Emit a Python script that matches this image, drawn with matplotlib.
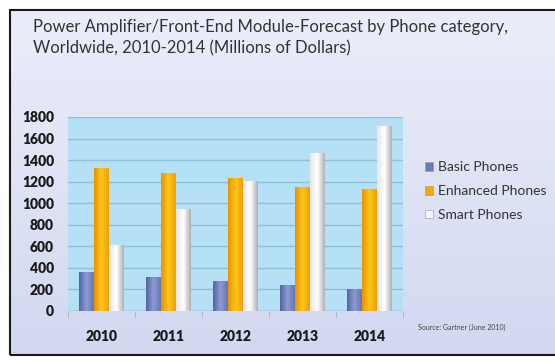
import numpy as np
import matplotlib.pyplot as plt
from matplotlib.colors import LinearSegmentedColormap
from matplotlib.patches import Rectangle, Patch

# data (millions of dollars)
years = ['2010', '2011', '2012', '2013', '2014']
basic = [355, 310, 275, 235, 200]
enhanced = [1320, 1280, 1230, 1150, 1130]
smart = [610, 940, 1200, 1460, 1710]
series_names = ['Basic Phones', 'Enhanced Phones', 'Smart Phones']
yticks = [0, 200, 400, 600, 800, 1000, 1200, 1400, 1600, 1800]

plt.rcParams['font.family'] = ['Lato', 'DejaVu Sans']

fig = plt.figure(figsize=(5.55, 3.63), dpi=100)

# background panel with soft vertical gradient and dark frame
bg = fig.add_axes([0, 0, 1, 1], zorder=-10)
bg.set_xlim(0, 1)
bg.set_ylim(0, 1)
bg.axis('off')
grad = np.linspace(0, 1, 256).reshape(-1, 1)
bg_cmap = LinearSegmentedColormap.from_list('bg', ['#d2d8f0', '#ebeefa'])
bg.imshow(grad, extent=[10/555, 1, 8/363, 1 - 10/363], origin='lower',
          aspect='auto', cmap=bg_cmap)
bg.add_patch(Rectangle((10/555, 8/363), 1 - 10/555 + 0.01, 1 - 18/363,
                       fill=False, ec='#1a1a1a', lw=1.5))

fig.text(33/555, 1 - 38/363,
         'Power Amplifier/Front-End Module-Forecast by Phone category,\n'
         'Worldwide, 2010-2014 (Millions of Dollars)',
         fontsize=12, color='#333333', va='center', ha='left',
         linespacing=1.4)

ax = fig.add_axes([68/555, 1 - 311/363, 335/555, 194/363])
ax.set_facecolor('#b6e0f6')
for s in ax.spines.values():
    s.set_visible(False)
ax.set_ylim(0, 1800)
ax.set_xlim(-0.5, len(years) - 0.5)
ax.set_yticks(yticks)
ax.yaxis.grid(True, color='#8cc2de', lw=1.0)
ax.set_axisbelow(True)
ax.axhline(0, color='#9aa8b8', lw=1.0, zorder=1)
ax.tick_params(axis='y', length=0, labelsize=10, pad=10)
ax.tick_params(axis='x', which='major', length=0, labelsize=10, pad=14)
ax.tick_params(axis='x', which='minor', length=4, color='#a8b4c4', width=0.6)

x = np.arange(len(years))
w = 0.22
cmaps = [
    LinearSegmentedColormap.from_list('b', ['#5464a4', '#8d9bd2', '#6676b6']),
    LinearSegmentedColormap.from_list('e', ['#e89200', '#ffc61a', '#f0a000']),
    LinearSegmentedColormap.from_list('s', ['#e6e6e6', '#ffffff', '#b0b0b0']),
]
swatch = ['#6a79b8', '#f5a900', '#f4f4f4']
hgrad = np.linspace(0, 1, 64).reshape(1, -1)

for i, vals in enumerate([basic, enhanced, smart]):
    bars = ax.bar(x + (i - 1) * w, vals, width=w, color='none', zorder=2)
    for b in bars:
        x0, y0 = b.get_x(), b.get_y()
        ax.imshow(hgrad, extent=[x0, x0 + b.get_width(), y0, y0 + b.get_height()],
                  aspect='auto', cmap=cmaps[i], zorder=2, interpolation='bilinear')
ax.set_xlim(-0.5, len(years) - 0.5)
ax.set_ylim(0, 1800)
ax.set_xticks(x)
ax.set_xticklabels(years)
ax.set_xticks(np.arange(len(years) + 1) - 0.5, minor=True)
for lab in ax.get_yticklabels() + ax.get_xticklabels():
    lab.set_fontweight('heavy')
    lab.set_color('#1a1a1a')

handles = [Patch(facecolor=c, edgecolor='#999999', lw=0.4) for c in swatch]
fig.legend(handles, series_names, loc='center left',
           bbox_to_anchor=(412/555, 1 - 191/363), frameon=False,
           fontsize=10, handlelength=0.6, handleheight=0.6,
           handletextpad=0.35, labelspacing=0.85, labelcolor='#333333')

fig.text(418/555, 1 - 327/363, 'Source: Gartner (June 2010)',
         fontsize=5, color='#444444', va='center')

plt.savefig('out.png', dpi=100)
